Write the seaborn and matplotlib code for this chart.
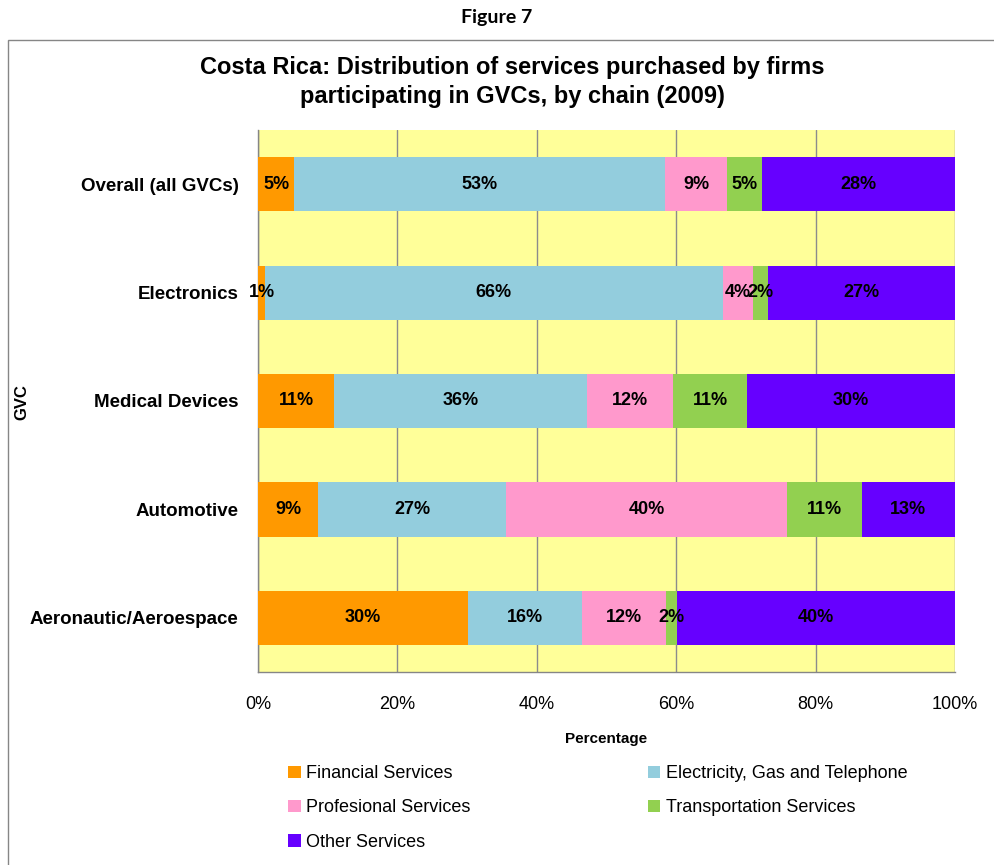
import numpy as np
import pandas as pd
import matplotlib
matplotlib.use("Agg")
import matplotlib.pyplot as plt
from matplotlib.patches import Patch, Rectangle
import seaborn as sns

chains = ["Overall (all GVCs)", "Electronics", "Medical Devices", "Automotive", "Aeronautic/Aeroespace"]
services = ["Financial Services", "Electricity, Gas and Telephone", "Profesional Services",
            "Transportation Services", "Other Services"]

# shares in percent
financial = [5.2, 1.0, 10.9, 8.6, 30.1]
electricity = [53.2, 65.7, 36.3, 27.0, 16.4]
profesional = [8.9, 4.3, 12.4, 40.3, 12.0]
transportation = [5.0, 2.2, 10.6, 10.7, 1.6]
other = [27.7, 26.8, 29.8, 13.4, 39.9]

colors = ["#FF9900", "#93CDDD", "#FF99CC", "#92D050", "#6600FF"]
xticks = [0, 20, 40, 60, 80, 100]
xticklabels = ["0%", "20%", "40%", "60%", "80%", "100%"]

def main():
    sns.set_style("white")
    plt.rcParams["font.family"] = ["Liberation Sans", "DejaVu Sans"]
    plt.rcParams["text.color"] = "black"
    plt.rcParams["axes.labelcolor"] = "black"
    plt.rcParams["xtick.color"] = "black"
    plt.rcParams["ytick.color"] = "black"

    series = [financial, electricity, profesional, transportation, other]
    df = pd.DataFrame(dict(zip(services, series)), index=chains)
    cum = df.cumsum(axis=1)

    fig = plt.figure(figsize=(9.94, 8.65), dpi=100)
    ax = fig.add_axes([258 / 994, 1 - 672 / 865, 697 / 994, 542 / 865])
    ax.set_facecolor("#FFFF99")

    # stacked bars: draw the running totals from the last series back to the first
    for i in reversed(range(len(services))):
        sns.barplot(x=cum[services[i]].values, y=chains, order=chains, orient="h",
                    color=colors[i], saturation=1, width=0.5, edgecolor="none",
                    linewidth=0, ax=ax, zorder=3)

    for i, svc in enumerate(services):
        for j, chain in enumerate(chains):
            v = df.loc[chain, svc]
            mid = cum.loc[chain, svc] - v / 2
            ax.text(mid, j, f"{v:.0f}%", ha="center", va="center",
                    fontsize=13, fontweight="bold", color="black", zorder=5)

    ax.set_xlim(0, 100)
    ax.set_ylim(len(chains) - 0.5, -0.5)
    ax.set_xticks(xticks)
    ax.set_xticklabels(xticklabels, fontsize=13)
    ax.set_yticks(range(len(chains)))
    ax.set_yticklabels(chains, fontsize=13.5, fontweight="bold")
    ax.set_yticks(np.arange(-0.5, len(chains), 1), minor=True)
    ax.tick_params(axis="y", which="major", length=0, pad=14)
    ax.tick_params(axis="y", which="minor", length=5, color="#868686", direction="out")
    ax.tick_params(axis="x", length=5, color="#868686", direction="out", pad=12)
    ax.set_xlabel("Percentage", fontsize=11, fontweight="bold", labelpad=14)
    ax.set_ylabel("")

    ax.xaxis.grid(True, color="#8C8C8C", linewidth=1)
    ax.set_axisbelow(True)
    for s in ["top", "right"]:
        ax.spines[s].set_visible(False)
    for s in ["left", "bottom"]:
        ax.spines[s].set_color("#868686")
        ax.spines[s].set_linewidth(1)

    fig.text(22 / 994, 1 - 402 / 865, "GVC", rotation=90, ha="center", va="center",
             fontsize=12, fontweight="bold")
    fig.text(512 / 994, 1 - 82 / 865,
             "Costa Rica: Distribution of services purchased by firms\nparticipating in GVCs, by chain (2009)",
             ha="center", va="center", fontsize=17, fontweight="bold", linespacing=1.3)
    fig.text(497 / 994, 1 - 18 / 865, "Figure 7", ha="center", va="center",
             fontsize=14, fontweight="bold", family=["Lato", "DejaVu Sans"])

    # outer chart frame
    fig.patches.append(Rectangle((8 / 994, -0.05), 1.1, 1.05 - 40 / 865, transform=fig.transFigure,
                                 fill=False, edgecolor="#868686", linewidth=1))

    order = [0, 2, 4, 1, 3]
    handles = [Patch(facecolor=colors[k], edgecolor="none") for k in order]
    labels = [services[k] for k in order]
    fig.legend(handles, labels, ncol=2, loc="upper left", bbox_to_anchor=(272 / 994, 1 - 749 / 865),
               frameon=False, fontsize=13, handlelength=0.7, handleheight=0.7,
               handletextpad=0.3, columnspacing=9.8, labelspacing=0.95)

    fig.savefig("out.png", dpi=100)

if __name__ == "__main__":
    main()
